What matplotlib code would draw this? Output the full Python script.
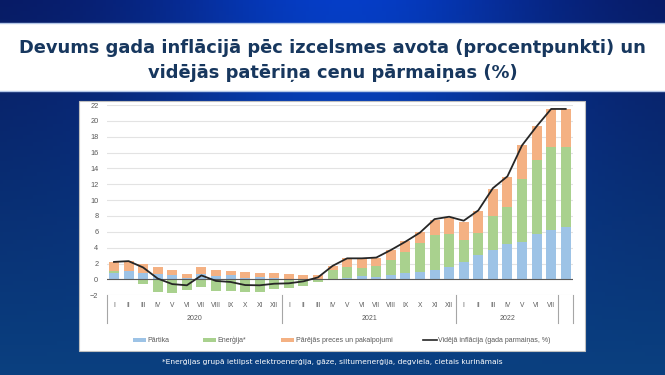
import numpy as np
import matplotlib
matplotlib.use("Agg")
import matplotlib.pyplot as plt
from matplotlib.patches import Rectangle

# month labels (last slot has no label in the source chart)
months = ["I", "II", "III", "IV", "V", "VI", "VII", "VIII", "IX", "X", "XI", "XII",
          "I", "II", "III", "IV", "V", "VI", "VII", "VIII", "IX", "X", "XI", "XII",
          "I", "II", "III", "IV", "V", "VI", "VII", ""]
years = ["2020", "2021", "2022"]

# contributions, percentage points
food = [0.76, 1.05, 0.76, 0.67, 0.55, 0.2, 0.63, 0.42, 0.5, 0.17, 0.34, 0.2,
        0.05, 0.05, 0.0, 0.05, 0.13, 0.42, 0.3, 0.5, 0.84, 0.97, 1.14, 1.52,
        2.19, 3.03, 3.7, 4.46, 4.72, 5.7, 6.23, 6.6]
energy = [0.3, 0.0, -0.55, -1.55, -1.77, -1.35, -1.0, -1.43, -1.43, -1.64, -1.55, -1.26,
          -1.14, -0.8, -0.3, 1.18, 1.47, 1.0, 1.39, 1.98, 2.57, 3.66, 4.5, 4.17,
          2.74, 2.86, 4.34, 4.67, 8.0, 9.3, 10.5, 10.1]
other = [1.17, 1.25, 1.19, 0.83, 0.63, 0.43, 0.87, 0.76, 0.6, 0.71, 0.5, 0.56,
         0.58, 0.5, 0.5, 0.45, 1.05, 1.22, 1.01, 1.22, 1.47, 1.37, 1.86, 2.11,
         2.35, 2.78, 3.36, 3.84, 4.18, 4.3, 4.77, 4.8]
# average inflation, annual change %
inflation = [2.2, 2.3, 1.5, 0.1, -0.6, -0.75, 0.5, -0.2, -0.33, -0.72, -0.75, -0.55,
             -0.5, -0.25, 0.25, 1.7, 2.65, 2.65, 2.75, 3.7, 4.75, 5.9, 7.6, 7.9,
             7.4, 8.7, 11.5, 13.0, 16.9, 19.3, 21.5, 21.5]

labels = ["Pārtika", "Enerģija*", "Pārējās preces un pakalpojumi",
          "Vidējā inflācija (gada parmaiņas, %)"]
colors = ["#9DC3E6", "#A9D18E", "#F4B183", "#262626"]

W, H = 665, 375
fig = plt.figure(figsize=(W / 100, H / 100), dpi=100)

# slide background: blue gradient
bg = fig.add_axes([0, 0, 1, 1])
bg.set_axis_off()
gx = np.linspace(0, 1, 200)
gy = np.linspace(0, 1, 100)[:, None]
c_left = np.array([0.03, 0.10, 0.38])
c_mid = np.array([0.02, 0.24, 0.78])
c_bot = np.array([0.04, 0.25, 0.50])
hor = np.exp(-((gx - 0.52) / 0.3) ** 2)[None, :, None]
top = c_left + (c_mid - c_left) * hor
img = top * (1 - gy[..., None]) + c_bot * gy[..., None]
bg.imshow(np.clip(img, 0, 1), aspect="auto", extent=[0, W, H, 0])
bg.set_xlim(0, W)
bg.set_ylim(H, 0)

# title band
bg.add_patch(Rectangle((0, 22.7), W, 68, facecolor="white", edgecolor="none"))
bg.plot([0, W], [22.7, 22.7], color="#B4C7E7", lw=1)
bg.plot([0, W], [90.7, 90.7], color="#B4C7E7", lw=1)
bg.text(W / 2, 48, "Devums gada inflācijā pēc izcelsmes avota (procentpunkti) un",
        ha="center", va="center", fontsize=12.9, fontweight="bold", color="#17375E")
bg.text(W / 2, 73, "vidējās patēriņa cenu pārmaiņas (%)",
        ha="center", va="center", fontsize=12.9, fontweight="bold", color="#17375E")

# chart panel
bg.add_patch(Rectangle((79, 100.7), 506, 250, facecolor="white", edgecolor="#BFBFBF", lw=0.8))

bg.text(W / 2, 362, "*Enerģijas grupā ietilpst elektroenerģija, gāze, siltumenerģija, degviela, cietais kurināmais",
        ha="center", va="center", fontsize=5.4, color="white")

# legend, drawn by hand to match the original spacing
leg_x = [132.5, 203, 281, 423]
for i, (lx, lab) in enumerate(zip(leg_x, labels)):
    if i < 3:
        bg.add_patch(Rectangle((lx, 338), 13, 4, facecolor=colors[i], edgecolor="none"))
    else:
        bg.plot([lx, lx + 14], [340.3, 340.3], color=colors[i], lw=1.2)
    bg.text(lx + 14.5, 340.3, lab, ha="left", va="center", fontsize=5,
            color="#595959", family="Liberation Sans")

# main chart
ax = fig.add_axes([106.7 / W, 1 - 295.2 / H, (573 - 106.7) / W, (295.2 - 105) / H])
ax.patch.set_alpha(0)
x = np.arange(len(months))
food_a = np.array(food)
energy_a = np.array(energy)
energy_bottom = np.where(energy_a > 0, food_a, 0)
other_bottom = food_a + np.clip(energy_a, 0, None)

bw = 0.68
ax.bar(x, food_a, bw, color=colors[0], zorder=2)
ax.bar(x, energy_a, bw, bottom=energy_bottom, color=colors[1], zorder=2)
ax.bar(x, other, bw, bottom=other_bottom, color=colors[2], zorder=2)
ax.plot(x, inflation, color=colors[3], lw=1.3, zorder=4)
ax.axhline(0, color="#595959", lw=0.8, zorder=3)

ax.set_xlim(-0.5, len(months) - 0.5)
ax.set_ylim(-2, 22)
ax.set_yticks(range(-2, 23, 2))
ax.grid(axis="y", color="#E3E3E3", lw=0.8, zorder=0)
ax.tick_params(axis="y", length=0, labelsize=5.3, labelcolor="#595959", pad=6)
ax.set_xticks([])
for s in ax.spines.values():
    s.set_visible(False)
for lab in ax.get_yticklabels():
    lab.set_fontfamily("Liberation Sans")

# two-level category axis
tr = ax.get_xaxis_transform()
for i, m in enumerate(months):
    ax.text(i, -0.052, m, transform=tr, ha="center", va="center",
            fontsize=4.8, color="#595959", family="Liberation Sans")
for k, yname in enumerate(years):
    ax.text(k * 12 + 5.5 if k < 2 else 27, -0.125, yname, transform=tr, ha="center",
            va="center", fontsize=5, color="#595959", family="Liberation Sans")
for b in [-0.5, 11.5, 23.5, 30.5, 31.5]:
    ax.plot([b, b], [0, -0.147], transform=tr, color="#A6A6A6", lw=0.8, clip_on=False)

fig.savefig("out.png", dpi=100)
